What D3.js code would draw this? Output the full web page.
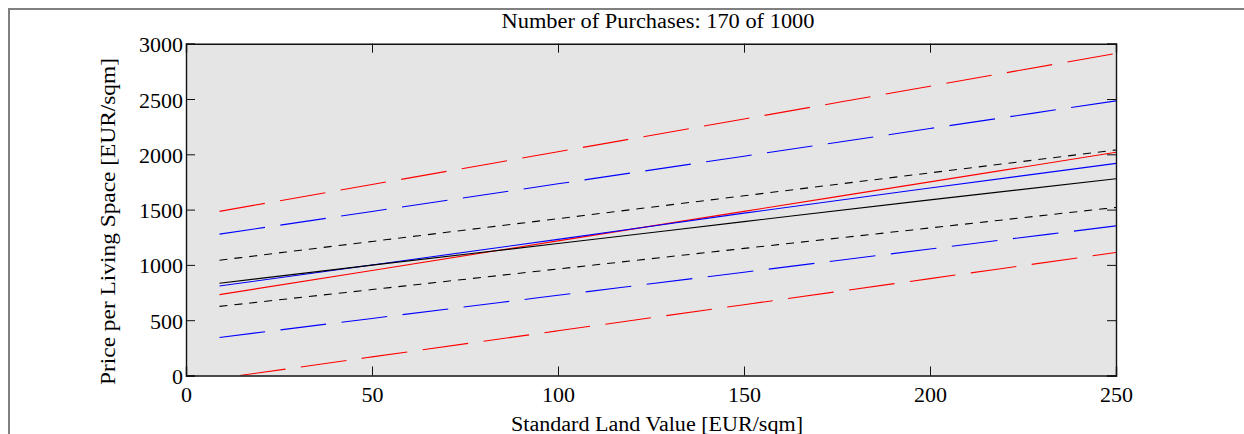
<!DOCTYPE html>
<html>
<head>
<meta charset="utf-8">
<script src="https://cdn.jsdelivr.net/npm/d3@7"></script>
<style>
  html, body { margin: 0; padding: 0; background: #fff; overflow: hidden; }
  svg { display: block; overflow: hidden; }
  text { font-family: "Liberation Serif", "Times New Roman", serif; fill: #000; }
</style>
</head>
<body>
<svg id="chart" width="1244" height="434"></svg>
<script>
// Standard land value samples (EUR/sqm)
const landValues = [9, 50, 100, 150, 200, 250];
const landValuesLowRed = [14.5, 50, 100, 150, 200, 250];

// Fitted price curves (EUR/sqm living space)
const fitBlack = [834, 998, 1193, 1391, 1588, 1779];
const fitBlue  = [809, 999, 1231, 1468, 1695, 1918];
const fitRed   = [731, 950, 1217, 1484, 1751, 2018];

// Interval bounds
const upperRed   = [1484, 1727, 2023, 2319, 2616, 2912];
const upperBlue  = [1278, 1483, 1733, 1983, 2233, 2483];
const upperBlack = [1042, 1212, 1418, 1625, 1832, 2039];
const lowerBlack = [625, 777, 963, 1149, 1334, 1520];
const lowerBlue  = [344, 516, 725, 934, 1144, 1353];
const lowerRed   = [0, 168, 404, 640, 876, 1112];

const xTicks = [0, 50, 100, 150, 200, 250];
const yTicks = [0, 500, 1000, 1500, 2000, 2500, 3000];

const titleText = "Number of Purchases: 170 of 1000";
const xLabelText = "Standard Land Value [EUR/sqm]";
const yLabelText = "Price per Living Space [EUR/sqm]";

const svg = d3.select("#chart");

// outer figure frame (only its top and left edges fall inside the page)
svg.append("path")
  .attr("d", "M9,440V9H1250")
  .attr("fill", "none").attr("stroke", "#808080").attr("stroke-width", 2);

const plot = { left: 186, right: 1116, top: 43.7, bottom: 375.5 };

const x = d3.scaleLinear().domain([0, 250]).range([plot.left, plot.right]);
const y = d3.scaleLinear().domain([0, 3000]).range([plot.bottom, plot.top]);

svg.append("defs").append("clipPath").attr("id", "plotClip")
  .append("rect")
  .attr("x", plot.left).attr("y", plot.top)
  .attr("width", plot.right - plot.left).attr("height", plot.bottom - plot.top);

svg.append("rect")
  .attr("x", plot.left).attr("y", plot.top)
  .attr("width", plot.right - plot.left).attr("height", plot.bottom - plot.top)
  .attr("fill", "#e5e5e5");

const series = [
  { xs: landValues, ys: upperRed,   color: "#ff0000", dash: "46,15.5" },
  { xs: landValues, ys: upperBlue,  color: "#0000ff", dash: "46,15.5" },
  { xs: landValues, ys: upperBlack, color: "#000000", dash: "8,7" },
  { xs: landValues, ys: lowerBlack, color: "#000000", dash: "8,7" },
  { xs: landValues, ys: lowerBlue,  color: "#0000ff", dash: "46,15.5" },
  { xs: landValuesLowRed, ys: lowerRed, color: "#ff0000", dash: "46,15.5" },
  { xs: landValues, ys: fitRed,   color: "#ff0000", dash: null },
  { xs: landValues, ys: fitBlue,  color: "#0000ff", dash: null },
  { xs: landValues, ys: fitBlack, color: "#000000", dash: null }
];

const line = d3.line()
  .x(d => x(d[0]))
  .y(d => y(d[1]))
  .curve(d3.curveMonotoneX);

const lines = svg.append("g").attr("clip-path", "url(#plotClip)");
series.forEach(s => {
  lines.append("path")
    .datum(s.xs.map((v, i) => [v, s.ys[i]]))
    .attr("d", line)
    .attr("fill", "none")
    .attr("stroke", s.color)
    .attr("stroke-width", 1.1)
    .attr("stroke-dasharray", s.dash);
});

// axes with inward ticks on all four sides
const tickLen = 9;
const axBottom = svg.append("g").attr("transform", `translate(0,${plot.bottom})`)
  .call(d3.axisBottom(x).tickValues(xTicks).tickSize(-tickLen).tickPadding(16).tickFormat(d3.format("d")));
const axTop = svg.append("g").attr("transform", `translate(0,${plot.top})`)
  .call(d3.axisTop(x).tickValues(xTicks).tickSize(-tickLen).tickFormat(""));
const axLeft = svg.append("g").attr("transform", `translate(${plot.left},0)`)
  .call(d3.axisLeft(y).tickValues(yTicks).tickSize(-tickLen).tickPadding(3).tickFormat(d3.format("d")));
const axRight = svg.append("g").attr("transform", `translate(${plot.right},0)`)
  .call(d3.axisRight(y).tickValues(yTicks).tickSize(-tickLen).tickFormat(""));

[axBottom, axTop, axLeft, axRight].forEach(g => {
  g.selectAll(".domain").attr("stroke", "#111").attr("stroke-width", 1.4);
  g.selectAll(".tick line").attr("stroke", "#111").attr("stroke-width", 1);
  g.selectAll("text").attr("font-family", "Liberation Serif, serif").attr("font-size", 22).attr("fill", "#000");
});
axBottom.selectAll(".tick text").attr("dy", null).attr("y", 26.5);
axLeft.selectAll(".tick text").attr("dy", null).attr("y", 8).attr("x", -3);

// title and axis labels
svg.append("text")
  .attr("x", 658).attr("y", 28)
  .attr("text-anchor", "middle")
  .attr("font-size", 20)
  .attr("textLength", 313).attr("lengthAdjust", "spacingAndGlyphs")
  .text(titleText);

svg.append("text")
  .attr("x", 657).attr("y", 431)
  .attr("text-anchor", "middle")
  .attr("font-size", 20)
  .attr("textLength", 292).attr("lengthAdjust", "spacingAndGlyphs")
  .text(xLabelText);

svg.append("text")
  .attr("transform", "translate(114.5,221.5) rotate(-90)")
  .attr("text-anchor", "middle")
  .attr("font-size", 20)
  .attr("textLength", 327).attr("lengthAdjust", "spacingAndGlyphs")
  .text(yLabelText);
</script>
</body>
</html>
